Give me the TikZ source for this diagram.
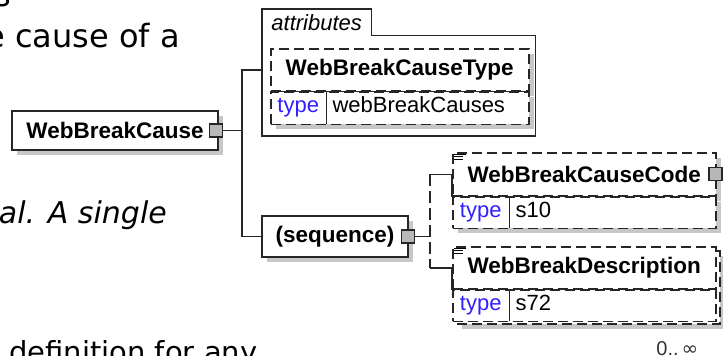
\documentclass[tikz,border=0pt]{standalone}
\usepackage{fontspec}
\setmainfont{Liberation Sans}
\newfontfamily\pagefont{DejaVu Sans}[ItalicFont={DejaVu Sans Oblique}]
\usetikzlibrary{positioning,shadows,backgrounds}

\definecolor{typeblue}{RGB}{50,30,255}

\tikzset{
  elembox/.style={draw=black!85, line width=1.5pt, fill=white, inner sep=0pt},
  optbox/.style={elembox, dash pattern=on 10pt off 5pt},
  shadowed/.style={drop shadow={shadow xshift=5pt, shadow yshift=-5pt, fill=black!22, opacity=1}},
  elemtxt/.style={font=\fontsize{22.5}{27}\selectfont\bfseries},
  typetxt/.style={font=\fontsize{22}{26}\selectfont, text=typeblue, inner sep=0pt},
  valtxt/.style={font=\fontsize{22}{26}\selectfont, inner sep=0pt, anchor=base west},
  wire/.style={draw=black!85, line width=1.5pt},
  togglebtn/.style={draw=black!85, line width=1.3pt, fill=black!28, minimum size=13pt, inner sep=0pt},
  pagetxt/.style={inner sep=0pt}
}

\begin{document}
\begin{tikzpicture}[x=1pt,y=-1pt]
  \useasboundingbox (0,0) rectangle (723,356);

  % text of the page behind the picture
  \node[pagetxt, font=\pagefont\fontsize{32}{38}\selectfont, anchor=base west] (pga) at (-6,6) {s};
  \node[pagetxt, font=\pagefont\fontsize{32}{38}\selectfont, anchor=base east] (pgb) at (180,47) {e cause of a};
  \node[pagetxt, font=\pagefont\itshape\fontsize{30}{36}\selectfont, anchor=base east] (pgc) at (167,223) {nal. A single};
  \node[pagetxt, font=\pagefont\fontsize{29}{35}\selectfont, anchor=base west] (pgd) at (9,362) {definition for any};

  % root element
  \node[elembox, shadowed, elemtxt, minimum width=206, minimum height=39] (cause) at (115,130.5) {WebBreakCause};
  \node[togglebtn] (causebtn) at ([xshift=-3]cause.east) {};

  % attributes
  \node[font=\fontsize{22}{26}\selectfont\itshape, inner sep=0pt, minimum width=109, minimum height=26, anchor=north west] (attrtab) at (262,9) {attributes};
  \node[inner sep=0pt, minimum width=273, minimum height=100, anchor=north west] (attrbox) at (attrtab.south west) {};
  \begin{scope}[on background layer]
    \draw[wire, fill=white] (attrtab.south west) -- (attrtab.north west) -- (attrtab.north east) -- (attrtab.south east)
      -- (attrbox.north east) -- (attrbox.south east) -- (attrbox.south west) -- cycle;
  \end{scope}

  \node[optbox, shadowed, elemtxt, minimum width=258, minimum height=42, anchor=north west] (typeh) at (270,48) {WebBreakCauseType};
  \node[optbox, shadowed, minimum width=258, minimum height=32, anchor=north west] (typerow) at (typeh.south west) {};
  \node[typetxt, minimum width=56, minimum height=32, anchor=north west] (typet) at (typeh.south west) {type};
  \node[valtxt] (typev) at ([xshift=6]typet.base east) {webBreakCauses};
  \draw[wire] (typeh.south west) -- (typeh.south east);
  \draw[wire] (typet.north east) -- (typet.south east);

  % sequence
  \node[elembox, shadowed, elemtxt, minimum width=146, minimum height=41] (seq) at (335,236.5) {(sequence)};
  \node[togglebtn] (seqbtn) at ([xshift=-1]seq.east) {};

  % WebBreakCauseCode
  \node[optbox, shadowed, elemtxt, minimum width=263, minimum height=43, anchor=north west] (codeh) at (452,152) {WebBreakCauseCode};
  \node[optbox, shadowed, minimum width=263, minimum height=31, anchor=north west] (coderow) at (codeh.south west) {};
  \node[typetxt, minimum width=57, minimum height=31, anchor=north west] (codet) at (codeh.south west) {type};
  \node[valtxt] (codev) at ([xshift=6]codet.base east) {s10};
  \draw[wire] (codeh.south west) -- (codeh.south east);
  \draw[wire] (codet.north east) -- (codet.south east);
  \draw[wire] (codeh.west) -- (codeh.south west);
  \draw[line width=0.8pt] ([shift={(2,2)}]codeh.north west) -- ++(12,0)
    ([shift={(2,4.5)}]codeh.north west) -- ++(9,0) ([shift={(2,7)}]codeh.north west) -- ++(9,0);
  \node[togglebtn] (codebtn) at ([xshift=-1]codeh.east) {};

  % WebBreakDescription (0..unbounded)
  \node[optbox, shadowed, minimum width=263, minimum height=73, anchor=north west] (descback) at (456,250) {};
  \node[optbox, elemtxt, minimum width=263, minimum height=42, anchor=north west] (desch) at (452,246) {WebBreakDescription};
  \node[optbox, minimum width=263, minimum height=31, anchor=north west] (descrow) at (desch.south west) {};
  \node[typetxt, minimum width=57, minimum height=31, anchor=north west] (desct) at (desch.south west) {type};
  \node[valtxt] (descv) at ([xshift=6]desct.base east) {s72};
  \draw[wire] (desch.south west) -- (desch.south east);
  \draw[wire] (desct.north east) -- (desct.south east);
  \draw[wire] (desch.west) -- (desch.south west);
  \draw[line width=0.8pt] ([shift={(2,2)}]desch.north west) -- ++(12,0)
    ([shift={(2,4.5)}]desch.north west) -- ++(9,0) ([shift={(2,7)}]desch.north west) -- ++(9,0);
  \node[font=\fontsize{20}{24}\selectfont, text=black!80, inner sep=0pt, anchor=base east] (desccard) at ([shift={(-18,33)}]descrow.south east) {0..\hspace{3pt}{\pagefont ∞}};

  % connectors
  \draw[wire] (causebtn.east) -- ++(19,0) coordinate (fork1);
  \draw[wire] (attrbox.west |- 0,70) -| (fork1) |- (seq.west);
  \draw[wire] (codeh.west) -- ++(-22,0) coordinate (fork2a);
  \draw[wire] (desch.west) -- ++(-22,0) coordinate (fork2b);
  \draw[wire, dash pattern=on 12pt off 5pt] (fork2a) -- (fork2b);
  \draw[wire] (seqbtn.east) -- (seqbtn.east -| fork2a);
\end{tikzpicture}
\end{document}
